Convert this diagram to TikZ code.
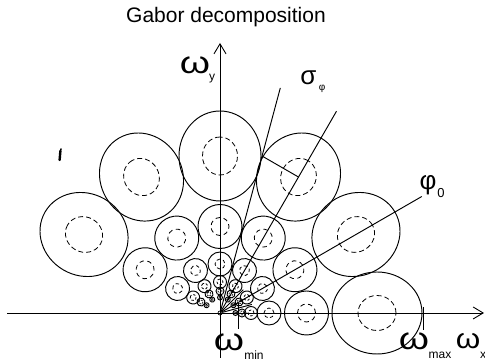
\documentclass[tikz,border=0pt]{standalone}
\usepackage{fontspec}
\setmainfont{Liberation Sans}
\usetikzlibrary{arrows.meta}
\newcommand{\wideom}{\scalebox{1.25}[1]{ω}}
\newcommand{\wideomx}{\scalebox{1.12}[1]{ω}}
\begin{document}
\begin{tikzpicture}[x=1pt,y=1pt,
  ring/.style={line width=0.95pt},
  dsh/.style={line width=0.8pt},
  ax/.style={line width=0.95pt},
  tip/.style={-{Straight Barb[length=10pt,width=12pt,line width=0.9pt]}},
  big/.style={inner sep=0pt, font=\fontsize{31}{31}\selectfont},
  mid/.style={inner sep=0pt, font=\fontsize{26}{26}\selectfont},
  sub/.style={inner sep=0pt, font=\fontsize{12}{12}\selectfont},
  titlestyle/.style={inner sep=0pt, font=\fontsize{21}{21}\selectfont}]
\useasboundingbox (0,0) rectangle (485,361);
\coordinate (O) at (220,48);
\node[titlestyle] (title) at (226,344) {Gabor decomposition};
% axes
\coordinate (xl) at (7,48);
\coordinate (xr) at (484,48);
\coordinate (yb) at (220,3);
\coordinate (yt) at (220,318);
\draw[ax,tip] (xl) -- (xr);
\draw[ax,tip] (yb) -- (yt);
% rings of ellipses
\begin{scope}[shift={(O)}]
\foreach \d/\a/\b/\da/\db/\on/\off in {157/45/41/19/17.5/5/3, 86.5/22/22/9/9/4.5/3.5, 49/12/12/5/5/3.5/2.5, 31/6.5/6.5/3/3/2.5/1.8, 22/4/4/2/2/1.6/1.2, 15.5/2.5/2.5/1.2/1.2/1/0.8}{
  \foreach \t in {0,30,...,150}{
    \draw[ring, rotate=\t] (\d,0) ellipse [x radius=\a, y radius=\b];
    \draw[dsh, dash pattern=on \on pt off \off pt, rotate=\t] (\d,0) ellipse [x radius=\da, y radius=\db];
  }
}
\coordinate (p75) at (75:233);
\coordinate (p60) at (60:233);
\coordinate (p30) at (30:233);
\coordinate (t60) at (60:157);
\coordinate (t75) at (75:162.5);
\coordinate (f45) at (45:33);
\coordinate (f15) at (15:33);
\coordinate (m1) at (18.3,10);
\coordinate (m2) at (18.3,-16);
\coordinate (M1) at (203,6);
\coordinate (M2) at (203,-17);
\node[draw, circle, line width=0.7pt, minimum size=4pt, inner sep=0pt] (o) at (0,0) {};
\end{scope}
\draw[ring] (o) -- (p75);
\draw[ring] (o) -- (p60);
\draw[ring] (o) -- (p30);
\draw[ring] (o) -- (f45);
\draw[ring] (o) -- (f15);
\draw[ring] (t60) -- (t75);
\draw[ring] (m1) -- (m2);
\draw[ring] (M1) -- (M2);
% labels
\node[big] (wy) at (195,296) {\wideom};
\node[sub] (wys) at (212,282) {y};
\node[mid] (sig) at (308.5,283) {σ};
\node[sub, font=\fontsize{10}{10}\selectfont] (sigs) at (322,272) {φ};
\node[mid] (phi) at (428,176) {φ};
\node[sub, font=\fontsize{13}{13}\selectfont] (phis) at (441,168) {0};
\node[big] (wmin) at (229,19) {\wideom};
\node[sub] (wmins) at (254,6) {min};
\node[big] (wmax) at (414,20) {\wideom};
\node[sub] (wmaxs) at (440,6) {max};
\node[big, font=\fontsize{28}{28}\selectfont] (wx) at (468,20) {\wideomx};
\node[sub] (wxs) at (483,6) {x};
% stray mark
\draw[line width=2.4pt, line cap=round] (59.6,201) -- (60.4,210);
\draw[line width=1.4pt] (60.4,210) -- (61.2,212.5);
\end{tikzpicture}
\end{document}
